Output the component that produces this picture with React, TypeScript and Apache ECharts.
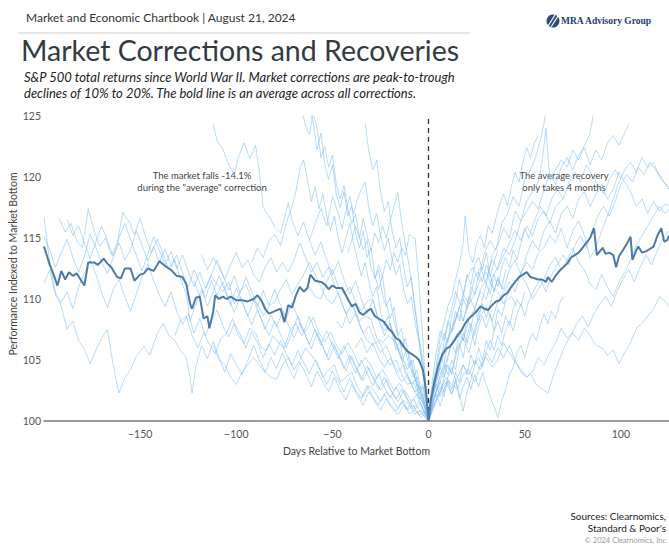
import React, { useEffect, useRef } from "react";
import * as echarts from "echarts";

// ---------- DATA ----------
const xTicks = [-150, -100, -50, 0, 50, 100];
const yTicks = [100, 105, 110, 115, 120, 125];

// average across all corrections: [day, index]
const averageLine: number[][] = [
  [-200,114.3],[-197,112.8],[-195,112.0],[-193,111.1],[-191,112.3],[-189,111.6],[-187,112.2],[-185,111.9],[-183,112.1],[-181,111.6],[-179,111.1],[-177,113.0],[-174,113.0],[-172,112.8],[-169,113.3],[-167,112.9],[-165,112.6],[-162,111.8],[-160,111.7],[-158,112.5],[-155,112.5],[-153,111.5],[-150,112.0],[-148,112.1],[-146,112.5],[-143,112.3],[-140,113.1],[-137,112.7],[-134,112.4],[-131,111.9],[-128,111.8],[-126,111.2],[-124,109.6],[-123,109.2],[-121,110.1],[-119,110.2],[-117,108.4],[-115,108.6],[-114,107.6],[-112,109.0],[-111,110.3],[-109,110.0],[-107,110.2],[-105,110.0],[-103,110.2],[-100,109.9],[-97,109.9],[-94,109.8],[-91,110.0],[-89,110.3],[-87,109.9],[-85,109.2],[-83,108.8],[-80,109.0],[-77,109.2],[-75,108.1],[-73,109.5],[-71,109.3],[-69,110.3],[-67,111.0],[-65,110.6],[-63,110.9],[-61.5,112.0],[-59,111.5],[-56,111.4],[-54,111.2],[-52,110.8],[-50,111.1],[-48,110.9],[-45,110.9],[-42,110.0],[-40,109.4],[-38,109.6],[-36,108.9],[-34,108.7],[-32,109.0],[-30,109.2],[-28,108.6],[-26,108.4],[-23,108.1],[-21,107.6],[-19,107.3],[-17,106.8],[-15,106.6],[-13,106.1],[-11,105.7],[-9,105.5],[-7,105.3],[-5,105.0],[-3,104.2],[-2,103.2],[-1,101.8],[0,100.0],[1,101.6],[3,103.2],[5,104.5],[7,105.4],[9,105.9],[11,106.1],[13,106.5],[15,107.0],[17,107.4],[19,108.0],[21,108.4],[23,108.7],[25,109.0],[27,109.4],[29,109.2],[31,109.1],[33,109.5],[35,109.8],[37,109.9],[39,110.3],[41,110.5],[43,111.0],[45,111.4],[47,111.8],[49,112.0],[51,112.2],[53,111.8],[55,111.7],[57,111.6],[59,111.6],[61,111.4],[62,111.8],[64,111.4],[66,111.9],[68,112.3],[70,112.6],[72,112.9],[74,113.4],[76,113.6],[78,113.8],[80,114.2],[82,114.6],[84,115.0],[86,115.8],[87.5,113.6],[89,113.9],[90.5,114.2],[92,113.7],[94,113.8],[96,113.6],[97.5,112.6],[99,113.5],[101,114.0],[103,114.5],[105,115.1],[106,113.2],[108,114.0],[109,114.3],[111,113.8],[113,113.9],[115,114.1],[117,114.3],[119,115.2],[121,115.8],[122.5,114.7],[124,114.8],[125,115.2]
];

// individual corrections, before the bottom
const corrA = [[-200,116.7],[-197,113],[-194,110.5],[-191,109.4],[-188,107.5],[-185,108.2],[-182,106.6],[-179,105.9],[-176,104.7],[-173,105.8],[-170,106.8],[-167,107.5],[-165,105.5],[-163,103.8],[-161,102.3],[-158,103.5],[-155,104.2],[-152,105.3],[-148,106.1],[-145,105.4],[-141,107.2],[-138,108.0],[-135,107.0],[-132,106.6],[-129,105.8],[-126,105.2],[-124,103.5],[-123,102.3],[-121,104.5],[-118,106.2],[-115,105.1],[-112,106.5],[-109,105.2],[-106,104.0],[-103,105.5],[-100,104.6],[-97,103.8],[-94,105.0],[-91,106.2],[-88,105.0],[-85,104.0],[-82,105.2],[-79,104.3],[-76,105.6],[-73,104.4],[-70,103.5],[-67,104.8],[-64,103.9],[-61,102.8],[-58,104.1],[-55,103.2],[-52,102.4],[-49,103.6],[-46,102.5],[-43,101.7],[-40,103.0],[-37,102.1],[-34,101.3],[-31,102.4],[-28,101.6],[-25,100.9],[-22,101.8],[-19,101.0],[-16,100.5],[-13,101.3],[-10,100.6],[-7,100.9],[-4,100.3],[-2,100.6],[0,100]];
const corrB = [[-200,111.3],[-197,112.4],[-194,110.3],[-191,109.7],[-188,110.6],[-185,109.2],[-182,111.0],[-179,112.1],[-176,113.2],[-173,112.0],[-170,110.5],[-167,109.3],[-164,110.8],[-161,111.6],[-158,110.2],[-155,109.0],[-152,110.4],[-149,111.8],[-146,112.9],[-143,111.5],[-140,110.3],[-137,109.4],[-134,110.6],[-131,109.0],[-128,107.9],[-125,108.8],[-122,107.2],[-119,108.4],[-116,107.0],[-113,108.2],[-110,109.1],[-107,107.8],[-104,106.9],[-101,108.0],[-98,107.1],[-95,106.0],[-92,107.3],[-89,106.4],[-86,105.2],[-83,106.3],[-80,105.4],[-77,106.6],[-74,105.5],[-71,104.6],[-68,105.8],[-65,104.8],[-62,103.9],[-59,105.0],[-56,104.0],[-53,103.0],[-50,104.1],[-47,103.3],[-44,102.4],[-41,103.5],[-38,102.6],[-35,101.8],[-32,102.9],[-29,102.0],[-26,101.3],[-23,102.2],[-20,101.4],[-17,100.8],[-14,101.6],[-11,100.9],[-8,101.3],[-5,100.5],[-2,100.8],[0,100]];
const corrC = [[-192,116.6],[-189,115.5],[-186,116.2],[-183,114.8],[-180,114.2],[-177,117.4],[-174,115.6],[-171,114.3],[-168,115.0],[-165,113.6],[-162,114.5],[-159,117.1],[-156,116.4],[-153,115.3],[-150,116.6],[-147,115.0],[-144,113.8],[-141,114.9],[-138,113.6],[-135,112.4],[-132,113.2],[-129,111.6],[-126,110.4],[-124,108.2],[-121,109.6],[-118,110.8],[-115,109.4],[-112,110.6],[-109,111.9],[-106,110.7],[-103,109.5],[-100,110.9],[-97,109.8],[-94,108.6],[-91,109.9],[-88,108.7],[-85,107.5],[-82,108.7],[-79,107.7],[-76,109.0],[-73,107.9],[-70,106.8],[-67,108.0],[-64,107.0],[-61,105.9],[-58,107.2],[-55,106.1],[-52,105.0],[-49,106.2],[-46,105.2],[-43,104.1],[-40,105.3],[-37,104.2],[-34,103.3],[-31,104.4],[-28,103.4],[-25,102.5],[-22,103.4],[-19,102.4],[-16,101.6],[-13,102.5],[-10,101.5],[-7,101.0],[-4,101.4],[-2,100.6],[0,100]];
const corrD = [[-200,115.1],[-197,114.0],[-194,112.6],[-191,113.8],[-188,114.9],[-185,113.4],[-182,112.2],[-179,113.5],[-176,115.3],[-173,114.2],[-170,113.0],[-167,112.1],[-164,113.4],[-161,114.6],[-158,113.2],[-155,114.0],[-152,115.6],[-149,114.4],[-146,113.1],[-143,114.3],[-140,113.0],[-137,114.1],[-134,112.7],[-131,113.6],[-128,112.2],[-125,111.0],[-122,112.4],[-119,111.3],[-116,110.1],[-113,111.5],[-110,110.3],[-107,111.4],[-104,110.0],[-101,108.9],[-98,110.2],[-95,109.0],[-92,107.9],[-89,109.1],[-86,108.0],[-83,107.0],[-80,108.2],[-77,107.1],[-74,106.0],[-71,107.3],[-68,108.6],[-65,107.4],[-62,106.3],[-59,107.5],[-56,106.5],[-53,105.3],[-50,106.5],[-47,105.4],[-44,104.3],[-41,105.4],[-38,104.4],[-35,103.4],[-32,104.5],[-29,103.5],[-26,102.6],[-23,103.6],[-20,102.6],[-17,101.8],[-14,102.6],[-11,101.7],[-8,101.0],[-5,101.6],[-2,100.7],[0,100]];
const corrE = [[-188,116.5],[-185,115.2],[-182,116.0],[-179,114.6],[-176,113.3],[-173,114.7],[-170,116.0],[-167,114.8],[-164,113.5],[-161,115.0],[-158,116.2],[-155,114.9],[-152,113.6],[-149,112.3],[-146,113.7],[-143,115.1],[-140,114.0],[-137,112.8],[-134,113.9],[-131,112.5],[-128,113.6],[-125,112.3],[-122,111.0],[-119,112.2],[-116,110.9],[-113,112.0],[-110,113.2],[-107,112.0],[-104,110.7],[-101,111.9],[-98,110.5],[-95,111.8],[-92,110.6],[-89,109.4],[-86,110.7],[-83,109.5],[-80,110.8],[-77,109.5],[-74,108.4],[-71,109.7],[-68,108.5],[-65,107.3],[-62,108.6],[-59,107.4],[-56,106.2],[-53,107.4],[-50,106.2],[-47,105.1],[-44,106.2],[-41,105.0],[-38,103.9],[-35,105.0],[-32,103.9],[-29,102.9],[-26,103.9],[-23,102.8],[-20,101.9],[-17,102.8],[-14,101.8],[-11,101.0],[-8,101.8],[-5,100.9],[-2,100.4],[0,100]];
const corrF = [[-112,124.3],[-110,123.0],[-107,122.3],[-104,121.0],[-101,120.2],[-99,121.6],[-96,122.8],[-93,121.5],[-90,122.6],[-88,120.4],[-86,117.5],[-83,116.8],[-80,115.9],[-77,115.4],[-75,116.6],[-73,117.9],[-71,116.4],[-68,115.2],[-65,116.3],[-62,114.8],[-59,113.6],[-56,114.7],[-53,113.2],[-50,112.0],[-47,113.1],[-44,111.6],[-41,110.4],[-38,111.5],[-35,110.0],[-32,108.8],[-29,109.9],[-26,108.3],[-23,107.0],[-20,108.0],[-17,106.4],[-14,105.0],[-11,105.9],[-8,104.0],[-5,102.6],[-3,103.0],[-1,101.2],[0,100]];
const corrG = [[-66,125.6],[-64,124.2],[-62,123.5],[-60,125.2],[-58,124.0],[-56,121.6],[-54,122.5],[-52,120.8],[-50,121.8],[-48,119.4],[-46,118.2],[-44,119.3],[-42,117.4],[-40,116.2],[-38,117.0],[-36,115.1],[-34,114.0],[-32,114.8],[-30,112.6],[-28,111.7],[-26,112.4],[-24,110.3],[-22,109.4],[-20,110.1],[-18,108.2],[-16,107.0],[-14,107.6],[-12,105.6],[-10,104.5],[-8,105.0],[-6,103.2],[-4,102.3],[-2,101.5],[0,100]];
const corrH = [[-62,125.4],[-60,124.5],[-58,122.2],[-56,123.6],[-54,121.0],[-52,119.8],[-50,121.0],[-48,118.6],[-46,117.5],[-44,118.8],[-42,116.8],[-40,117.6],[-38,115.4],[-36,114.2],[-34,115.6],[-32,113.4],[-30,114.2],[-28,112.0],[-26,110.8],[-24,111.9],[-22,109.6],[-20,108.4],[-18,109.3],[-16,107.1],[-14,106.0],[-12,106.8],[-10,104.8],[-8,103.6],[-6,104.2],[-4,102.4],[-2,101.0],[0,100]];
const corrI = [[-33,124.4],[-31,122.0],[-29,120.6],[-27,121.4],[-25,118.8],[-23,117.2],[-21,118.0],[-19,115.6],[-17,114.2],[-15,115.0],[-13,112.6],[-11,111.0],[-9,111.8],[-7,109.0],[-5,106.8],[-3,105.0],[-1,102.4],[0,100]];
const corrJ = [[-92,113.0],[-89,114.2],[-86,113.4],[-83,114.8],[-80,115.3],[-77,114.4],[-74,116.2],[-71,117.6],[-69,118.8],[-67,120.6],[-65,121.4],[-63,119.8],[-61,118.0],[-59,119.2],[-57,117.4],[-55,118.6],[-53,116.8],[-51,115.6],[-49,116.8],[-47,115.0],[-45,113.8],[-43,115.0],[-41,116.2],[-39,114.6],[-37,113.2],[-35,111.9],[-33,113.0],[-31,111.4],[-29,110.2],[-27,111.0],[-25,109.0],[-23,107.8],[-21,108.6],[-19,107.2],[-17,105.8],[-15,106.6],[-13,105.0],[-11,104.2],[-9,105.0],[-7,103.4],[-5,102.2],[-3,102.8],[-1,101.0],[0,100]];
const corrK = [[-62,114.8],[-59,116.2],[-56,117.4],[-53,116.0],[-50,118.4],[-47,117.0],[-45,115.8],[-43,117.2],[-41,118.4],[-39,117.0],[-37,118.2],[-35,119.0],[-33,119.6],[-31,117.4],[-29,116.0],[-27,117.0],[-25,115.2],[-23,114.0],[-21,115.0],[-19,113.2],[-17,112.0],[-15,112.8],[-13,110.8],[-11,109.6],[-9,110.2],[-7,108.0],[-5,106.4],[-3,104.6],[-1,102.0],[0,100]];
const corrL = [[-42,113.8],[-40,114.8],[-38,116.0],[-36,115.0],[-34,116.6],[-32,115.2],[-30,114.0],[-28,115.4],[-26,114.6],[-24,116.0],[-22,115.0],[-20,116.4],[-18,117.6],[-16,118.7],[-14,116.2],[-12,114.4],[-10,112.6],[-8,110.4],[-6,108.0],[-4,105.4],[-2,102.8],[0,100]];
const corrM = [[-28,111.6],[-26,112.8],[-24,111.8],[-22,113.2],[-20,112.4],[-18,113.8],[-16,113.0],[-14,114.2],[-12,113.6],[-10,115.3],[-8,115.0],[-7,115.0],[-5,111.2],[-4,109.0],[-3,106.8],[-2,104.0],[-1,102.0],[0,100]];
const corrN = [[-132,107.0],[-129,108.2],[-126,108.6],[-123,107.0],[-120,106.0],[-117,107.2],[-114,106.3],[-111,105.5],[-108,106.8],[-105,107.2],[-102,108.4],[-99,107.0],[-96,106.4],[-93,107.6],[-90,107.2],[-87,106.0],[-84,105.8],[-81,107.0],[-78,106.4],[-75,106.0],[-72,107.4],[-69,108.0],[-66,107.0],[-63,107.6],[-60,108.5],[-57,107.2],[-54,106.5],[-51,107.3],[-48,106.2],[-45,105.5],[-42,106.4],[-39,105.6],[-36,104.5],[-33,105.2],[-30,104.6],[-27,103.5],[-24,104.2],[-21,103.4],[-18,102.5],[-15,103.1],[-12,102.4],[-9,101.6],[-6,102.2],[-3,101.0],[0,100]];
const corrO = [[-122,111.5],[-119,110.2],[-116,110.8],[-113,111.9],[-110,111.2],[-107,110.6],[-104,111.4],[-101,109.6],[-98,110.6],[-95,111.2],[-92,110.0],[-89,109.6],[-86,108.6],[-83,109.4],[-80,109.8],[-77,110.8],[-74,111.6],[-71,110.4],[-68,111.2],[-65,112.0],[-62,113.0],[-59,112.0],[-56,111.0],[-53,110.0],[-50,109.6],[-47,110.5],[-44,109.2],[-41,108.0],[-38,108.8],[-35,107.5],[-32,106.6],[-29,106.2],[-26,106.6],[-23,105.4],[-20,104.6],[-17,105.0],[-14,103.8],[-11,103.0],[-8,103.2],[-5,102.0],[-2,101.2],[0,100]];
const corrP = [[-112,106.2],[-109,105.0],[-106,104.6],[-103,103.6],[-100,103.0],[-97,104.0],[-94,104.6],[-91,105.2],[-88,104.6],[-85,104.0],[-82,103.6],[-79,103.4],[-76,104.6],[-73,105.2],[-70,104.2],[-67,105.0],[-64,106.0],[-61,105.4],[-58,104.8],[-55,103.6],[-52,104.2],[-49,104.6],[-46,103.2],[-43,103.6],[-40,104.0],[-37,102.8],[-34,102.0],[-31,102.9],[-28,102.4],[-25,101.6],[-22,102.4],[-19,101.8],[-16,101.0],[-13,101.7],[-10,101.3],[-7,100.6],[-4,100.9],[-2,100.3],[0,100]];
const corrQ = [[-62,111.0],[-59,110.2],[-56,110.0],[-53,111.4],[-50,112.4],[-47,111.0],[-44,110.4],[-41,111.0],[-38,109.8],[-35,109.0],[-32,109.8],[-29,110.0],[-26,108.2],[-23,107.4],[-20,108.0],[-17,106.4],[-14,105.0],[-11,104.6],[-8,104.0],[-5,102.2],[-3,101.6],[-1,100.8],[0,100]];
const corrR = [[-48,108.2],[-45,107.6],[-42,109.0],[-39,109.4],[-36,108.2],[-33,108.6],[-30,108.4],[-27,106.8],[-24,106.4],[-21,107.0],[-18,106.6],[-15,105.8],[-12,103.8],[-9,103.0],[-6,103.6],[-4,102.0],[-2,101.0],[0,100]];
const corrS = [[-38,106.0],[-35,106.8],[-32,105.6],[-29,106.4],[-26,105.2],[-23,104.4],[-20,105.2],[-17,104.0],[-14,103.2],[-11,103.8],[-8,102.6],[-5,101.8],[-3,102.2],[-1,100.6],[0,100]];
const corrT = [[-118,113.6],[-115,112.4],[-112,113.4],[-109,112.6],[-106,111.6],[-103,112.8],[-100,113.8],[-97,112.6],[-94,113.2],[-91,112.0],[-88,111.4],[-85,112.6],[-82,113.4],[-79,112.2],[-76,113.0],[-73,112.2],[-70,113.2],[-67,114.6],[-64,113.4],[-61,112.2],[-58,113.0],[-55,111.8],[-52,112.6],[-49,111.2],[-46,110.0],[-43,108.8],[-40,109.6],[-37,108.4],[-34,107.2],[-31,107.8],[-28,106.6],[-25,105.6],[-22,106.2],[-19,105.0],[-16,104.0],[-13,104.6],[-10,103.4],[-7,102.4],[-4,102.8],[-2,101.4],[0,100]];

// individual recoveries, after the bottom
const recov1 = [[0,100],[3,102.6],[6,104.4],[9,106.2],[12,107.4],[15,108.8],[18,110.4],[21,109.6],[24,111.8],[27,112.6],[30,111.2],[33,113.6],[36,114.4],[39,115.8],[42,115.0],[45,117.2],[48,116.4],[51,118.0],[54,118.8],[57,119.6],[59,121.2],[61,124.0],[63,119.8],[66,120.6],[69,121.4],[72,120.8],[75,122.2],[78,121.4],[81,122.6],[84,123.6],[86,125.5]];
const recov2 = [[0,100],[3,101.8],[6,103.6],[9,104.8],[12,106.4],[15,107.2],[18,106.6],[21,108.4],[24,109.2],[27,110.6],[30,110.0],[33,111.8],[36,112.6],[39,114.2],[42,113.6],[45,114.8],[48,116.4],[51,117.2],[54,118.0],[57,117.4],[60,119.0],[63,120.2],[66,119.4],[69,120.8],[72,121.6],[75,120.6],[78,121.8],[81,122.4],[84,121.0],[87,122.2],[90,121.4],[93,122.8],[96,123.4],[99,122.6],[102,123.6],[104,124.3]];
const recov3 = [[0,100],[3,102.0],[6,103.2],[9,104.6],[12,104.0],[15,105.8],[18,106.8],[21,105.6],[24,107.6],[27,108.6],[30,109.4],[33,108.2],[36,109.8],[39,110.6],[42,111.4],[45,110.6],[48,112.2],[51,113.0],[54,112.4],[57,113.8],[60,114.2],[63,115.2],[66,114.6],[69,115.8],[72,114.2],[75,115.6],[78,116.4],[81,115.2],[84,113.4],[87,114.2],[90,115.6],[93,116.8],[96,118.2],[99,119.6],[102,120.6],[105,121.2],[108,120.4],[111,121.6],[114,120.8],[117,121.2],[120,120.0],[123,119.4],[125,119.2]];
const recov4 = [[0,100],[3,103.0],[6,105.0],[9,106.4],[12,107.6],[15,108.8],[18,108.2],[21,109.6],[24,110.4],[27,111.6],[30,112.2],[33,111.0],[36,110.6],[39,109.6],[42,110.8],[45,111.4],[48,112.0],[51,111.2],[54,110.0],[57,110.8],[60,111.6],[63,112.8],[66,113.4],[69,112.4],[72,113.2],[75,114.2],[78,113.0],[81,112.4],[84,111.2],[87,110.8],[90,112.0],[93,111.0],[96,110.2],[99,111.4],[102,112.2],[105,113.2],[108,114.4],[111,115.2],[114,116.0],[117,116.8],[120,117.6],[123,117.0],[125,117.4]];
const recov5 = [[0,100],[3,101.4],[6,102.4],[9,103.6],[12,103.0],[15,102.6],[18,103.8],[21,104.2],[24,103.2],[27,104.6],[30,105.2],[33,104.4],[36,105.0],[39,106.4],[42,105.6],[45,104.8],[48,104.2],[51,103.6],[54,104.0],[57,105.2],[60,104.6],[63,105.6],[66,106.4],[69,107.6],[72,106.8],[75,107.2],[78,106.6],[81,107.6],[84,107.0],[87,106.2],[90,106.0],[93,105.4],[96,105.8],[99,104.7],[102,105.6],[105,106.4],[108,107.6],[111,108.0],[114,108.6],[117,109.2],[120,110.2],[123,109.8],[125,109.4]];
const recov6 = [[0,100],[3,101.2],[6,102.4],[9,103.2],[12,102.2],[15,103.6],[18,104.6],[21,103.8],[24,105.0],[27,104.2],[30,105.6],[33,104.8],[36,106.0],[39,105.2],[42,106.2],[45,105.0],[48,104.0],[51,103.6],[53,103.9],[56,103.0],[59,102.6],[62,102.3],[65,103.8],[68,105.0],[71,106.2],[74,107.0],[77,108.0],[80,108.6],[83,107.7],[86,108.8],[89,109.6],[92,110.2],[95,109.4],[98,110.6],[101,111.6],[104,112.4],[107,111.4],[110,112.6],[113,113.6],[116,112.8],[119,114.0],[122,115.0],[125,115.6]];
const recov7 = [[0,100],[2,102.4],[5,104.0],[8,106.4],[11,108.6],[14,110.6],[17,109.4],[20,111.8],[23,112.6],[26,111.6],[29,113.8],[32,114.8],[35,114.0],[38,116.2],[41,117.0],[44,118.4],[47,117.6],[50,119.8],[53,120.6],[56,121.8],[58,123.0],[60,124.4],[61,125.5]];
const recov8 = [[0,100],[2,102.0],[4,103.6],[6,105.2],[8,104.6],[10,106.8],[13,107.6],[16,109.4],[18,108.2],[21,110.2],[24,109.2],[27,110.8],[30,111.6],[33,113.2],[36,112.4],[39,113.6],[42,114.6],[45,115.6],[48,114.8],[51,116.0],[54,115.2],[57,116.6],[60,117.2],[63,116.2],[66,117.6],[70,118.2]];
const recov9 = [[0,100],[2,101.4],[4,102.6],[6,103.8],[8,104.6],[10,103.8],[12,105.0],[14,104.2],[16,106.0],[18,107.2],[20,106.4],[22,107.6],[24,106.2],[26,107.8],[28,108.6],[30,107.6],[32,108.8],[34,107.4],[36,109.2],[38,108.6],[40,109.8],[43,110.2],[46,109.4]];
const recov10 = [[0,100],[2,102.6],[4,104.2],[6,106.0],[8,107.2],[10,106.4],[12,108.6],[14,109.8],[16,111.6],[18,110.4],[20,112.0],[22,111.2],[24,112.8],[26,113.4],[28,112.4],[30,113.8],[32,111.8],[34,113.0],[36,114.0]];
const recov11 = [[0,100],[2,101.0],[4,101.8],[6,102.8],[8,102.0],[10,103.4],[12,102.6],[14,104.0],[16,103.2],[18,104.6],[20,103.8],[22,105.4],[24,104.6],[26,106.0],[28,105.0],[30,106.6],[32,105.8],[34,107.4],[36,108.2],[38,107.2],[40,108.6],[42,107.8],[44,109.2],[46,110.0],[48,109.4],[50,110.6]];
const recov12 = [[0,100],[2,102.0],[4,103.0],[6,102.0],[8,103.6],[10,104.6],[12,103.8],[14,105.6],[16,106.4],[18,105.2],[20,107.0],[22,108.0],[24,107.0],[26,108.8],[28,109.6],[30,108.4],[33,110.2],[36,111.6],[39,110.8],[42,112.4],[45,113.2],[48,112.0],[51,113.6],[54,114.8],[57,114.0],[60,115.6],[63,116.4],[66,115.4],[69,117.0],[72,117.6],[75,116.6],[78,118.2],[81,118.8],[84,117.6],[87,118.6],[90,119.4],[93,118.2],[96,119.0],[99,120.4],[102,119.6],[105,118.8],[108,117.6],[111,118.2],[114,117.0],[117,118.0],[120,117.2],[123,117.8],[125,117.6]];
const recov13 = [[0,100],[2,102.8],[4,104.6],[6,106.8],[8,108.0],[10,109.4],[12,110.2],[14,111.6],[16,112.8],[18,114.6],[19,116.8],[21,113.8],[23,113.0],[25,114.6],[27,115.2],[29,114.2],[31,116.0],[33,115.4],[35,116.6],[37,117.8],[39,118.6],[41,117.6],[43,119.2],[45,120.4],[47,119.6],[49,121.2],[51,122.4],[53,121.6],[55,122.8],[57,123.4]];
const recov14 = [[0,100],[2,101.6],[4,102.2],[6,101.2],[8,102.6],[10,103.2],[12,102.2],[14,103.4],[16,101.8],[18,102.8],[20,103.6],[22,102.6],[24,103.8],[26,102.8],[28,104.0],[30,103.0],[32,102.0],[34,101.2],[36,100.3],[38,101.6],[40,102.6],[42,103.8],[44,104.4],[46,105.6],[48,106.2],[50,105.2],[52,106.4],[54,107.2],[56,106.6],[58,107.8],[60,108.8],[62,108.0],[64,109.0],[66,108.4],[68,109.6],[70,110.2]];
const recov15 = [[0,100],[2,101.2],[4,102.4],[6,103.2],[8,102.4],[10,103.6],[12,104.4],[14,103.4],[16,102.2],[18,100.8],[20,102.4],[22,103.4],[24,104.6],[26,105.2],[28,104.4],[30,105.8],[32,106.6],[34,105.8],[36,107.0],[38,106.2],[40,107.4],[42,108.2],[44,107.4],[46,108.8],[48,109.6],[50,108.6],[52,109.8],[55,110.8],[58,111.6],[61,110.6],[64,112.0],[67,112.8],[70,113.6],[73,112.8],[76,114.4],[79,115.2],[82,114.2],[85,115.6],[88,116.8],[91,117.6],[94,116.8],[97,118.0],[100,119.4],[103,120.2],[106,119.6],[109,120.8],[112,120.2],[115,121.2],[118,120.6],[121,120.0],[124,119.2],[125,119.0]];
const recov16 = [[0,100],[2,103.4],[4,105.6],[6,107.4],[8,106.6],[10,108.2],[12,107.4],[14,109.0],[16,108.2],[18,110.0],[20,109.2],[22,111.0],[24,110.4],[26,112.2],[28,111.4],[30,112.8],[32,112.0],[34,110.6],[36,111.8],[38,110.8],[40,112.4]];
const recov17 = [[0,100],[2,101.8],[4,103.2],[6,104.4],[8,103.6],[10,105.2],[12,106.4],[14,105.6],[16,107.4],[18,106.6],[20,108.4],[22,107.6],[24,109.2],[26,108.2],[28,110.0],[30,111.2],[32,110.4],[34,112.0],[36,111.0],[38,112.6],[40,113.4],[42,112.6],[44,114.0],[46,113.2],[48,114.6],[50,115.8],[52,115.0],[55,116.4],[58,117.6],[61,116.8],[64,118.2],[67,119.0],[70,118.2],[73,119.6],[76,120.4],[79,119.6],[82,121.0],[85,120.2],[88,119.4],[91,118.6],[94,119.8],[97,120.6],[100,119.8]];

const correctionLines = [corrA, corrB, corrC, corrD, corrE, corrF, corrG, corrH, corrI, corrJ, corrK, corrL, corrM, corrN, corrO, corrP, corrQ, corrR, corrS, corrT];
const recoveryLines = [recov1, recov2, recov3, recov4, recov5, recov6, recov7, recov8, recov9, recov10, recov11, recov12, recov13, recov14, recov15, recov16, recov17];

const headerText = "Market and Economic Chartbook | August 21, 2024";
const titleText = "Market Corrections and Recoveries";
const subtitleLines = [
  "S&P 500 total returns since World War II. Market corrections are peak-to-trough",
  "declines of 10% to 20%. The bold line is an average across all corrections.",
];
const noteLeft = ["The market falls -14.1%", 'during the "average" correction'];
const noteRight = ["The average recovery", "only takes 4 months"];
const sourceLines = ["Sources: Clearnomics,", "Standard & Poor's"];
const copyrightText = "© 2024 Clearnomics, Inc";
const yAxisTitle = "Performance Indexed to Market Bottom";

const FONT = "Lato, 'Open Sans', sans-serif";
const THIN = "rgba(125,188,240,0.55)";
const BOLD = "#4d7ba6";

export default function App() {
  const ref = useRef<HTMLDivElement>(null);
  useEffect(() => {
    if (!ref.current) return;
    const chart = echarts.init(ref.current, null, { renderer: "svg" });

    const thinSeries = [...correctionLines, ...recoveryLines].map((d, i) => ({
      type: "line",
      name: "c" + i,
      data: d,
      showSymbol: false,
      silent: true,
      z: 2,
      lineStyle: { color: THIN, width: 1 },
    }));

    const minus = (v: number) => (v < 0 ? "\u2212" + Math.abs(v) : String(v));

    chart.setOption({
      animation: false,
      textStyle: { fontFamily: FONT },
      grid: { left: 44, right: 0, top: 116, bottom: 125, containLabel: false, outerBoundsMode: "none" },
      xAxis: {
        type: "value",
        min: -200,
        max: 125,
        interval: 50,
        name: "Days Relative to Market Bottom",
        nameLocation: "middle",
        nameGap: 24,
        nameTextStyle: { color: "#444", fontSize: 10.5, fontFamily: FONT },
        axisLine: { show: true, onZero: false, lineStyle: { color: "#7a7a7a", width: 1.5 } },
        axisTick: { show: false },
        splitLine: { show: false },
        axisLabel: {
          color: "#555",
          fontSize: 10.5,
          margin: 7,
          showMinLabel: false,
          showMaxLabel: false,
          formatter: (v: number) => (xTicks.includes(v) ? minus(v) : ""),
        },
      },
      yAxis: {
        type: "value",
        min: 100,
        max: 125,
        interval: 5,
        axisLine: { show: false },
        axisTick: { show: false },
        splitLine: { show: false },
        axisLabel: {
          color: "#555",
          fontSize: 10.5,
          margin: 3,
          formatter: (v: number) => (yTicks.includes(v) ? String(v) : ""),
        },
      },
      series: [
        ...thinSeries,
        {
          type: "line",
          name: "Average",
          data: averageLine,
          showSymbol: false,
          silent: true,
          z: 5,
          lineStyle: { color: BOLD, width: 2 },
          markLine: {
            silent: true,
            symbol: ["none", "none"],
            label: { show: false },
            lineStyle: { color: "#333", type: [5, 4], width: 1.3 },
            data: [{ xAxis: 0 }],
          },
        },
      ],
      graphic: [
        { type: "text", x: 26, y: 17, style: { text: headerText, font: `12px ${FONT}`, fill: "#333", textVerticalAlign: "middle" } },
        { type: "line", shape: { x1: 18, y1: 33, x2: 470, y2: 33 }, style: { stroke: "#cfcfcf", lineWidth: 1 } },
        { type: "circle", shape: { cx: 553, cy: 21, r: 6.5 }, style: { fill: "#2d4b7c" } },
        { type: "line", shape: { x1: 548, y1: 26, x2: 555, y2: 15 }, style: { stroke: "#fff", lineWidth: 1.2 } },
        { type: "line", shape: { x1: 551, y1: 27, x2: 558, y2: 16 }, style: { stroke: "#fff", lineWidth: 1.2 } },
        { type: "text", x: 561, y: 21, style: { text: "MRA Advisory Group", font: `bold 9.5px 'Liberation Serif', serif`, fill: "#22406c", textVerticalAlign: "middle" } },
        { type: "text", x: 21, y: 50, style: { text: titleText, font: `28.5px ${FONT}`, fill: "#333b42", textVerticalAlign: "middle" } },
        { type: "text", x: 24, y: 77, style: { text: subtitleLines[0], font: `italic 13px ${FONT}`, fill: "#222", textVerticalAlign: "middle" } },
        { type: "text", x: 24, y: 93, style: { text: subtitleLines[1], font: `italic 13px ${FONT}`, fill: "#222", textVerticalAlign: "middle" } },
        { type: "text", x: 13, y: 264, rotation: Math.PI / 2, style: { text: yAxisTitle, font: `10.5px ${FONT}`, fill: "#444", textAlign: "center", textVerticalAlign: "middle" } },
        { type: "text", x: 202, y: 175, style: { text: noteLeft[0], font: `9.5px ${FONT}`, fill: "#444", textAlign: "center", textVerticalAlign: "middle" } },
        { type: "text", x: 202, y: 187, style: { text: noteLeft[1], font: `9.5px ${FONT}`, fill: "#444", textAlign: "center", textVerticalAlign: "middle" } },
        { type: "text", x: 564, y: 175, style: { text: noteRight[0], font: `9.5px ${FONT}`, fill: "#444", textAlign: "center", textVerticalAlign: "middle" } },
        { type: "text", x: 564, y: 187, style: { text: noteRight[1], font: `9.5px ${FONT}`, fill: "#444", textAlign: "center", textVerticalAlign: "middle" } },
        { type: "text", x: 666, y: 516, style: { text: sourceLines[0], font: `10px ${FONT}`, fill: "#222", textAlign: "right", textVerticalAlign: "middle" } },
        { type: "text", x: 666, y: 528, style: { text: sourceLines[1], font: `10px ${FONT}`, fill: "#222", textAlign: "right", textVerticalAlign: "middle" } },
        { type: "text", x: 666, y: 540, style: { text: copyrightText, font: `7.5px ${FONT}`, fill: "#999", textAlign: "right", textVerticalAlign: "middle" } },
      ],
    });
    return () => chart.dispose();
  }, []);

  return (
    <div
      ref={ref}
      style={{ position: "fixed", left: 0, top: 0, width: 669, height: 546, background: "#fff" }}
    />
  );
}
